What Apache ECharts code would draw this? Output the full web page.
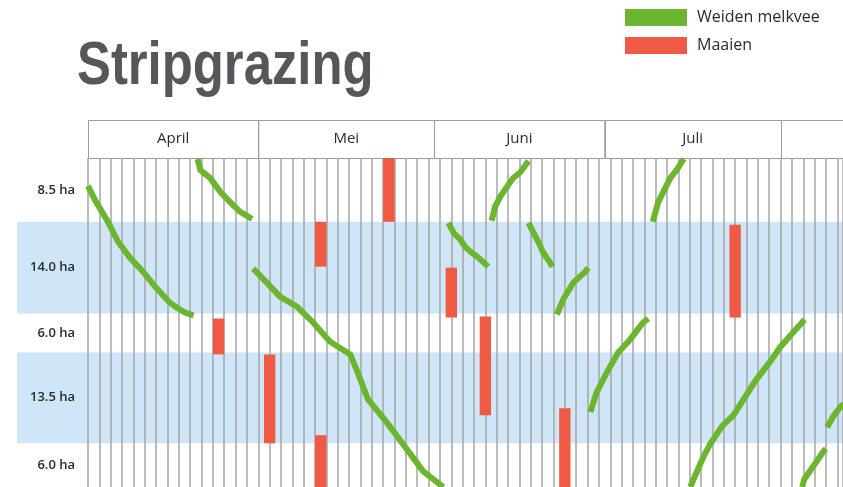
<!DOCTYPE html>
<html><head><meta charset="utf-8">
<script src="https://cdn.jsdelivr.net/npm/echarts@6/dist/echarts.min.js"></script>
<style>html,body{margin:0;padding:0;background:#fff}#c{width:843px;height:487px}</style>
</head><body><div id="c"></div>
<script>
// Days are counted from 1 April (day 0). Field depth positions run 0 (top) .. 330 (bottom).
const monthNames = ['April', 'Mei', 'Juni', 'Juli', ''];
const monthStartDays = [0, 30, 61, 91, 122];
const dayMax = 133;

const fieldLabels = ['8.5 ha', '14.0 ha', '6.0 ha', '13.5 ha', '6.0 ha'];
const fieldTop = [0, 64, 156, 195, 286];
const fieldBottom = [64, 156, 195, 286, 330];
const fieldShaded = [false, true, false, true, false];

// Grazing runs (Weiden melkvee): [day, position]
const grazeA = [[0,28],[1.2,42],[3.5,64],[5.3,84],[7.4,100],[9.7,114],[11.8,129],[14.4,145],[15.6,150],[17.1,155],[18.6,158]];
const grazeB = [[19.3,1],[19.8,12],[21.5,20],[23.3,34],[25,44],[26.8,54],[28.9,61]];
const grazeC = [[29.1,111],[31.5,125],[33.8,139],[36.8,149],[39.5,164],[42.6,184],[46.2,197],[47.5,215],[49.3,242],[52.6,265],[55.5,287],[59,314],[62.6,330]];
const grazeD = [[71.1,63],[71.7,49],[72.6,39],[73.8,29],[74.9,20],[76.2,14],[77.6,3]];
const grazeE = [[63.5,65],[64.4,75],[65.6,82],[66.4,89],[67.6,95],[68.8,100],[70.5,109]];
const grazeF = [[77.6,65],[78.5,75],[79.4,85],[80.2,95],[81.4,105],[81.8,109]];
const grazeG = [[82.6,157],[83.7,142],[85.5,125],[87.6,114],[88.1,110]];
const grazeH = [[99.5,64],[100.4,45],[101.7,30],[102.6,20],[103.7,12],[104.6,4],[105,1]];
const grazeI = [[88.5,255],[89.6,235],[91.4,215],[93.4,195],[95.5,182],[97.8,165],[98.7,161]];
const grazeJ = [[106.1,330],[106.7,322],[108.4,300],[109.6,287],[111.7,269],[113.7,258],[115.5,242],[117.5,224],[120.2,204],[121.9,190],[124.2,175],[125.8,165],[126.2,162]];
const grazeK = [[130.2,270],[131.3,259],[132.5,250],[133.2,246]];
const grazeL = [[125.8,330],[126.2,322],[128.4,304],[129.6,294],[130,292]];
const grazeRuns = [grazeA, grazeB, grazeC, grazeD, grazeE, grazeF, grazeG, grazeH, grazeI, grazeJ, grazeK, grazeL];

// Mowing (Maaien): [startDay, endDay, topPosition, bottomPosition]
const mowStart = [52, 40, 22, 31, 40, 63, 69, 113, 83];
const mowEnd = [54, 42, 24, 33, 42, 65, 71, 115, 85];
const mowTop = [0, 64, 161, 197, 278, 110, 159, 67, 251];
const mowBottom = [64, 109, 197, 286, 330, 160, 258, 160, 330];

const GREEN = '#6cb52f';
const RED = '#ee5a43';

const chart = echarts.init(document.getElementById('c'), null, {renderer: 'canvas'});

const headerData = monthNames.map((n, i) => [monthStartDays[i], i < monthNames.length - 1 ? monthStartDays[i + 1] : dayMax, i]);
const fieldData = fieldLabels.map((l, i) => [fieldTop[i], fieldBottom[i], i]);
const mowData = mowStart.map((s, i) => [s, mowEnd[i], mowTop[i], mowBottom[i]]);

const series = [];
series.push({
  type: 'custom', xAxisIndex: 0, yAxisIndex: 0, z: 1, silent: true, clip: false,
  data: fieldData, encode: {y: [0, 1]},
  renderItem: function (params, api) {
    const i = api.value(2);
    const p0 = api.coord([0, api.value(0)]);
    const p1 = api.coord([dayMax, api.value(1)]);
    const children = [];
    if (fieldShaded[i]) {
      children.push({type: 'rect', shape: {x: p0[0] - 71, y: p0[1], width: p1[0] - p0[0] + 71, height: p1[1] - p0[1]},
        style: {fill: '#cee6f7'}});
    }
    children.push({type: 'text', style: {text: fieldLabels[i], x: p0[0] - 13, y: (p0[1] + p1[1]) / 2,
      align: 'right', verticalAlign: 'middle', font: '600 13px "Open Sans", sans-serif', fill: '#2b2b2b'}});
    return {type: 'group', children: children};
  }
});
series.push({
  type: 'custom', xAxisIndex: 1, yAxisIndex: 1, z: 1, silent: true, clip: false,
  data: headerData, encode: {x: [0, 1]},
  renderItem: function (params, api) {
    const i = api.value(2);
    const a = api.coord([api.value(0), 1]);
    const b = api.coord([api.value(1), 0]);
    return {type: 'group', children: [
      {type: 'rect', shape: {x: Math.round(a[0]) + 0.5, y: Math.round(a[1]) + 0.5, width: b[0] - a[0], height: b[1] - a[1]},
        style: {fill: 'rgba(0,0,0,0)', stroke: '#9c9c9c', lineWidth: 1}},
      {type: 'text', style: {text: monthNames[i], x: (a[0] + b[0]) / 2, y: (a[1] + b[1]) / 2,
        align: 'center', verticalAlign: 'middle', font: '15px "Open Sans", sans-serif', fill: '#2b2b2b'}}
    ]};
  }
});
grazeRuns.forEach(run => {
  series.push({
    type: 'line', name: 'Weiden melkvee', xAxisIndex: 0, yAxisIndex: 0, z: 5,
    data: run, symbol: 'none', silent: true,
    itemStyle: {color: GREEN},
    lineStyle: {color: GREEN, width: 6, cap: 'butt', join: 'miter'}
  });
});
series.push({
  type: 'custom', name: 'Maaien', xAxisIndex: 0, yAxisIndex: 0, z: 5, silent: true,
  itemStyle: {color: RED},
  data: mowData, encode: {x: [0, 1], y: [2, 3]},
  renderItem: function (params, api) {
    const a = api.coord([api.value(0), api.value(2)]);
    const b = api.coord([api.value(1), api.value(3)]);
    return {type: 'rect', shape: {x: a[0], y: a[1], width: b[0] - a[0], height: b[1] - a[1]},
      style: {fill: RED}};
  }
});

chart.setOption({
  animation: false,
  backgroundColor: '#ffffff',
  graphic: [{
    type: 'text', x: 77, y: 36, scaleX: 0.82, silent: true,
    style: {text: 'Stripgrazing', font: 'bold 62px "Liberation Sans", Arial, sans-serif', fill: '#55585b', verticalAlign: 'top'}
  }],
  legend: {
    orient: 'vertical', left: 620, top: 4, itemWidth: 62, itemHeight: 17, itemGap: 11,
    icon: 'rect', selectedMode: false,
    data: [{name: 'Weiden melkvee', itemStyle: {color: GREEN}}, {name: 'Maaien', itemStyle: {color: RED}}],
    textStyle: {fontSize: 16, color: '#2b2b2b', fontFamily: '"Open Sans", sans-serif', padding: [0, 0, 0, 5]}
  },
  grid: [
    {left: 88, top: 158, right: 0, height: 330},
    {left: 88, top: 120, right: 0, height: 38}
  ],
  xAxis: [
    {type: 'value', gridIndex: 0, min: 0, max: dayMax, interval: 2, z: 3,
      axisLabel: {show: false}, axisLine: {show: false}, axisTick: {show: false},
      splitLine: {show: true, lineStyle: {color: '#a4a4a4', width: 1.5}}},
    {type: 'value', gridIndex: 1, min: 0, max: dayMax, show: false}
  ],
  yAxis: [
    {type: 'value', gridIndex: 0, min: 0, max: 330, inverse: true, show: false},
    {type: 'value', gridIndex: 1, min: 0, max: 1, show: false}
  ],
  series: series
});
</script>
</body></html>
